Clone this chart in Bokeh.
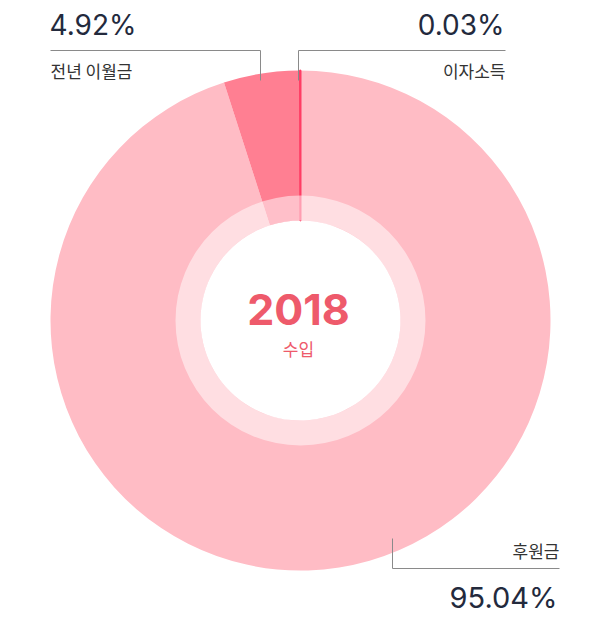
import math
from bokeh.plotting import figure
from bokeh.models import Range1d, ColumnDataSource
from bokeh.core.properties import value
from bokeh.embed import file_html
from bokeh.resources import INLINE

# ---- data ----
categories = ["후원금", "전년 이월금", "이자소득"]
shares = [95.04, 4.92, 0.03]
pct_labels = ["95.04%", "4.92%", "0.03%"]
colors = ["#FFBCC5", "#FF7F92", "#FF3D64"]
center_title = "2018"
center_sub = "수입"

# ---- layout (screen pixels, y down) ----
W, H = 592, 616
CX, CY = 300, 320
R_OUT, R_IN, R_RING = 250, 100, 125
KFONT = "Noto Sans CJK KR"
NFONT = "Inter"


def sy(y):
    return 620 - y


p = figure(width=W, height=H, output_backend="svg", toolbar_location=None,
           x_range=Range1d(0, W), y_range=Range1d(620 - H, 620),
           min_border=0)
p.axis.visible = False
p.grid.visible = False
p.outline_line_color = None
p.background_fill_color = "white"
p.border_fill_color = "white"

total = sum(shares)
starts, ends = [], []
cum = 0.0
for s in shares:
    starts.append(math.pi / 2 - cum / total * 2 * math.pi)
    cum += s
    ends.append(math.pi / 2 - cum / total * 2 * math.pi)

src = ColumnDataSource(dict(
    x=[CX] * 3, y=[sy(CY)] * 3, start=starts, end=ends, color=colors,
    lalpha=[0, 0, 1], cat=categories))
p.annular_wedge(x="x", y="y", inner_radius=R_IN, outer_radius=R_OUT,
                start_angle="start", end_angle="end", direction="clock",
                fill_color="color", line_color="color", line_alpha="lalpha",
                line_width=2, source=src)

# translucent inner ring
p.annulus(x=CX, y=sy(CY), inner_radius=R_IN, outer_radius=R_RING,
          fill_color="white", fill_alpha=0.5, line_color=None)

# center texts
p.text(x=[298], y=[sy(309)], text=[center_title], text_align="center",
       text_baseline="middle", text_font=value(NFONT), text_font_size="43px",
       text_font_style="bold", text_color="#EE5A6B")
p.text(x=[298], y=[sy(348)], text=[center_sub], text_align="center",
       text_baseline="middle", text_font=value(KFONT), text_font_size="17px",
       text_color="#EE5A6B")

# leader lines + labels (layout per category)
LINE_C = "#8A8A8A"
NUM_C = "#232A3D"
LBL_C = "#333333"
# 후원금 (bottom right)
p.line(x=[392, 392, 559], y=[sy(538), sy(568), sy(568)], line_color=LINE_C, line_width=1)
p.text(x=[559], y=[sy(550)], text=[categories[0]], text_align="right", text_baseline="middle",
       text_font=value(KFONT), text_font_size="17px", text_color=LBL_C)
p.text(x=[557], y=[sy(597)], text=[pct_labels[0]], text_align="right", text_baseline="middle",
       text_font=value(NFONT), text_font_size="29px", text_color=NUM_C)
# 전년 이월금 (top left)
p.line(x=[260, 260, 50], y=[sy(80), sy(50), sy(50)], line_color=LINE_C, line_width=1)
p.text(x=[50], y=[sy(70)], text=[categories[1]], text_align="left", text_baseline="middle",
       text_font=value(KFONT), text_font_size="17px", text_color=LBL_C)
p.text(x=[49], y=[sy(24)], text=[pct_labels[1]], text_align="left", text_baseline="middle",
       text_font=value(NFONT), text_font_size="28px", text_color=NUM_C)
# 이자소득 (top right)
p.line(x=[298, 298, 505], y=[sy(80), sy(50), sy(50)], line_color=LINE_C, line_width=1)
p.text(x=[505], y=[sy(70)], text=[categories[2]], text_align="right", text_baseline="middle",
       text_font=value(KFONT), text_font_size="17px", text_color=LBL_C)
p.text(x=[504], y=[sy(24)], text=[pct_labels[2]], text_align="right", text_baseline="middle",
       text_font=value(NFONT), text_font_size="28px", text_color=NUM_C)

open("out.html", "w").write(file_html(p, INLINE))
